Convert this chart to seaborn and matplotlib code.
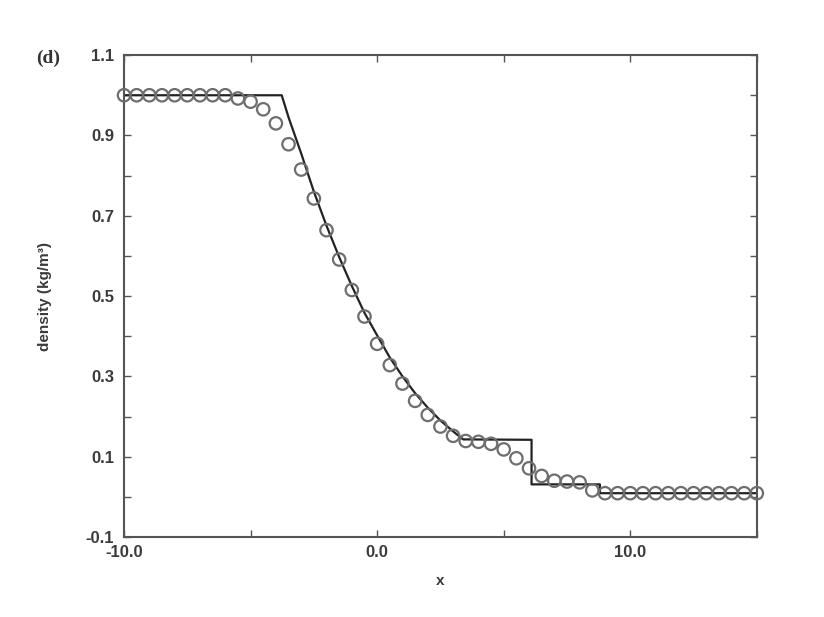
import numpy as np
import pandas as pd
import seaborn as sns
import matplotlib.pyplot as plt
from matplotlib.ticker import MultipleLocator, FormatStrFormatter

# === data ===
# simulation points (open circles), every 0.5 from -10 to 15
sim_x = np.arange(-10.0, 15.01, 0.5)
sim_rho = [1.0, 1.0, 1.0, 1.0, 1.0, 1.0, 1.0, 1.0, 1.0,
           0.992, 0.984, 0.965, 0.93, 0.878, 0.815, 0.743, 0.664, 0.591,
           0.515, 0.449, 0.381, 0.328, 0.282, 0.239, 0.204, 0.175, 0.152,
           0.139, 0.137, 0.132, 0.118, 0.096, 0.071, 0.052, 0.040, 0.038,
           0.036, 0.016,
           0.009, 0.009, 0.009, 0.009, 0.009, 0.009, 0.009, 0.009, 0.009,
           0.009, 0.009, 0.009, 0.009]

# exact solution (solid line), steps drawn as repeated x
exact_x = [-10.0, -3.77, -3.5, -3.0, -2.5, -2.0, -1.5, -1.0, -0.5, 0.0, 0.5,
           1.0, 1.5, 2.0, 2.5, 3.0, 3.4, 6.1, 6.1, 8.8, 8.8, 15.0]
exact_rho = [1.0, 1.0, 0.945, 0.855, 0.76, 0.675, 0.597, 0.525, 0.458, 0.402,
             0.347, 0.300, 0.258, 0.222, 0.190, 0.163, 0.143, 0.142, 0.031,
             0.031, 0.009, 0.009]

sim = pd.DataFrame({"x": sim_x, "rho": sim_rho})
exact = pd.DataFrame({"x": exact_x, "rho": exact_rho})

# === style ===
sns.set_style("ticks")
plt.rcParams["font.family"] = ["Liberation Sans", "DejaVu Sans"]

fig = plt.figure(figsize=(8.24, 6.17), dpi=100)
ax = fig.add_axes([0.1505, 0.1297, 0.768, 0.781])

sns.lineplot(data=exact, x="x", y="rho", sort=False, estimator=None,
             color="#222222", linewidth=1.6, ax=ax, zorder=2)
sns.scatterplot(data=sim, x="x", y="rho", marker="o", s=80,
                facecolors="none", edgecolor="#6e6e6e", linewidth=1.6,
                ax=ax, zorder=3, clip_on=False)

ax.set_xlim(-10, 15)
ax.set_ylim(-0.1, 1.1)
ax.set_xticks([-10, 0, 10])
ax.xaxis.set_minor_locator(MultipleLocator(5))
ax.set_yticks(np.arange(-0.1, 1.11, 0.2))
ax.yaxis.set_minor_locator(MultipleLocator(0.1))
ax.xaxis.set_major_formatter(FormatStrFormatter("%.1f"))
ax.yaxis.set_major_formatter(FormatStrFormatter("%.1f"))

ax.tick_params(which="both", direction="in", top=True, right=True,
               length=5, width=1.0, color="#555555")
ax.tick_params(axis="y", which="major", pad=7, labelsize=12, labelcolor="#3a3a3a")
ax.tick_params(axis="x", which="major", pad=6, labelsize=12, labelcolor="#3a3a3a")
for lab in ax.get_xticklabels() + ax.get_yticklabels():
    lab.set_fontweight("bold")

for sp in ax.spines.values():
    sp.set_color("#555555")
    sp.set_linewidth(1.5)

ax.set_xlabel("x", fontsize=11, fontweight="bold", color="#3a3a3a", labelpad=10)
ax.set_ylabel("density (kg/m\u00b3)", fontsize=11, fontweight="bold",
              color="#3a3a3a", labelpad=24)

fig.text(48 / 824, 1 - 58 / 617, "(d)", fontsize=14, fontweight="bold",
         family="Liberation Serif", color="#333333", ha="center", va="center")

fig.savefig("out.png", dpi=100)
